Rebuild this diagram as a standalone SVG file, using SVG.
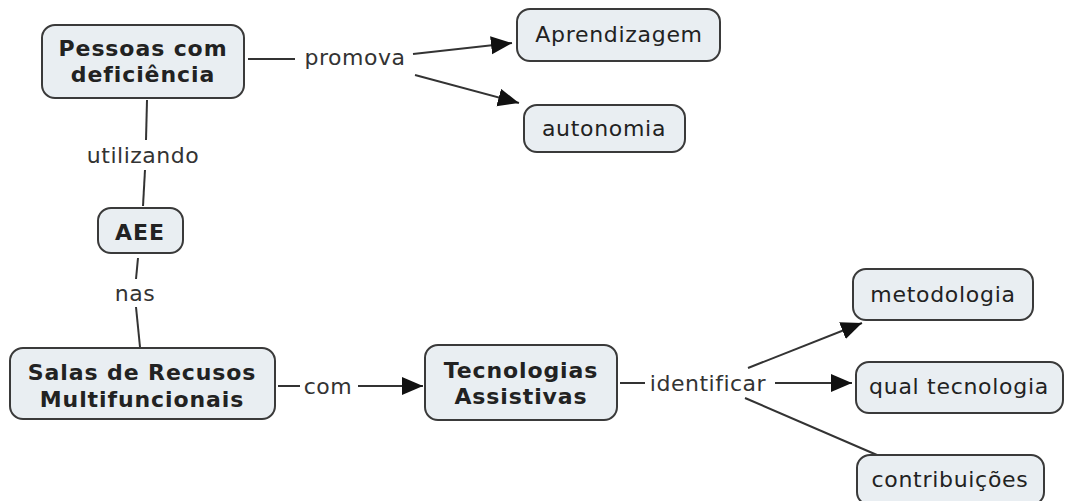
<svg xmlns="http://www.w3.org/2000/svg" width="1065" height="501" viewBox="0 0 1065 501">
<style>
  .box{fill:#e9eef2;stroke:#3a3a3a;stroke-width:2}
  .t{font-family:"DejaVu Sans",Verdana,sans-serif;font-size:22px;letter-spacing:0.7px;fill:#222;text-anchor:middle;dominant-baseline:central}
  .b{font-weight:bold;letter-spacing:0.9px}
  .ln{fill:none;stroke:#333;stroke-width:2}
  .lab{font-family:"DejaVu Sans",Verdana,sans-serif;font-size:22px;letter-spacing:0.5px;fill:#333;text-anchor:middle;dominant-baseline:central}
</style>
<defs>
  <marker id="ah" markerUnits="userSpaceOnUse" markerWidth="24" markerHeight="20" refX="21" refY="9" orient="auto">
    <path d="M0,0 L21,9 L0,18 Z" fill="#111"/>
  </marker>
</defs>
<rect width="1065" height="501" fill="#fff"/>
<g id="connectors">
  <line class="ln" x1="248" y1="59" x2="295" y2="59"/>
  <line class="ln" x1="413" y1="54" x2="512" y2="43" marker-end="url(#ah)"/>
  <line class="ln" x1="415" y1="75" x2="519" y2="103" marker-end="url(#ah)"/>
  <line class="ln" x1="147" y1="100" x2="146" y2="140"/>
  <line class="ln" x1="145" y1="170" x2="143" y2="206"/>
  <line class="ln" x1="138" y1="258" x2="136" y2="279"/>
  <line class="ln" x1="136" y1="307" x2="140" y2="347"/>
  <line class="ln" x1="278" y1="386" x2="300" y2="386"/>
  <line class="ln" x1="358" y1="386" x2="423" y2="386" marker-end="url(#ah)"/>
  <line class="ln" x1="620" y1="383" x2="645" y2="383"/>
  <line class="ln" x1="748" y1="368" x2="862" y2="323" marker-end="url(#ah)"/>
  <line class="ln" x1="775" y1="383" x2="852" y2="383" marker-end="url(#ah)"/>
  <line class="ln" x1="745" y1="398" x2="877" y2="455"/>
  <text class="lab" x="355" y="57">promova</text>
  <text class="lab" x="143" y="155">utilizando</text>
  <text class="lab" x="135" y="293">nas</text>
  <text class="lab" x="328" y="386">com</text>
  <text class="lab" x="708" y="383">identificar</text>
</g>
<g id="pessoas">
  <rect class="box" x="42" y="25" width="202" height="73" rx="13"/>
  <text class="t b" x="143" y="48">Pessoas com</text>
  <text class="t b" x="143" y="74">deficiência</text>
</g>
<g id="aprendizagem">
  <rect class="box" x="517" y="9" width="203" height="52" rx="13"/>
  <text class="t" x="619" y="34">Aprendizagem</text>
</g>
<g id="autonomia">
  <rect class="box" x="524" y="105" width="161" height="47" rx="13"/>
  <text class="t" x="604" y="128">autonomia</text>
</g>
<g id="aee">
  <rect class="box" x="98" y="208" width="85" height="45" rx="13"/>
  <text class="t b" x="140" y="232">AEE</text>
</g>
<g id="salas">
  <rect class="box" x="10" y="348" width="265" height="71" rx="13"/>
  <text class="t b" x="142" y="372">Salas de Recusos</text>
  <text class="t b" x="142" y="399">Multifuncionais</text>
</g>
<g id="tecnologias">
  <rect class="box" x="425" y="345" width="192" height="75" rx="13"/>
  <text class="t b" x="521" y="370">Tecnologias</text>
  <text class="t b" x="521" y="396">Assistivas</text>
</g>
<g id="metodologia">
  <rect class="box" x="853" y="269" width="180" height="51" rx="13"/>
  <text class="t" x="943" y="294">metodologia</text>
</g>
<g id="qual">
  <rect class="box" x="856" y="362" width="207" height="51" rx="13"/>
  <text class="t" x="959" y="386">qual tecnologia</text>
</g>
<g id="contribuicoes">
  <rect class="box" x="857" y="455" width="187" height="50" rx="13"/>
  <text class="t" x="950" y="479">contribuições</text>
</g>
</svg>
